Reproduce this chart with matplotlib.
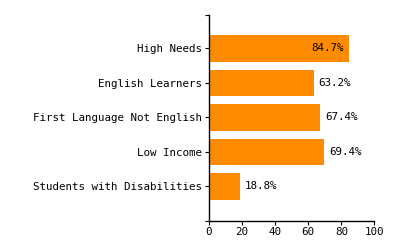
import numpy as np
from matplotlib import pyplot as plt

categories = ["High Needs", "English Learners", "First Language Not English",
              "Low Income", "Students with Disabilities"]
values = [84.7, 63.2, 67.4, 69.4, 18.8]
xticks = [0, 20, 40, 60, 80, 100]

plt.rcParams['font.family'] = ['DejaVu Sans Mono']
plt.rcParams['font.size'] = 7.8

fig = plt.figure(figsize=(4, 2.5), dpi=100)
ax = fig.add_axes([0.5225, 0.116, 0.4135, 0.826])

pos = np.arange(len(categories))
ax.barh(pos, values, height=0.77, color="#ff8c00")

# value labels: inside the bar if it is long, else right of it
for p, v in zip(pos, values):
  if v > 75:
    ax.annotate("%.1f%%" % v, (v, p), xytext=(-5, 0), textcoords="offset pixels",
                ha="right", va="center", color="black")
  else:
    ax.annotate("%.1f%%" % v, (v, p), xytext=(5, 0), textcoords="offset pixels",
                ha="left", va="center", color="black")

ax.set_xlim(0, 100)
ax.set_ylim(5.0, -0.98)
ax.set_xticks(xticks)
ax.set_yticks(pos)
ax.set_yticklabels(categories)
# outer ticks at the ends of the y domain
ax.set_yticks([-0.98, 5.0], minor=True)
ax.tick_params(axis="both", which="both", length=3, width=0.8, pad=2, color="black")
ax.tick_params(axis="x", pad=1)

ax.spines["top"].set_visible(False)
ax.spines["right"].set_visible(False)
ax.spines["left"].set_linewidth(1)
ax.spines["bottom"].set_linewidth(1)

fig.savefig("out.png", dpi=100)
